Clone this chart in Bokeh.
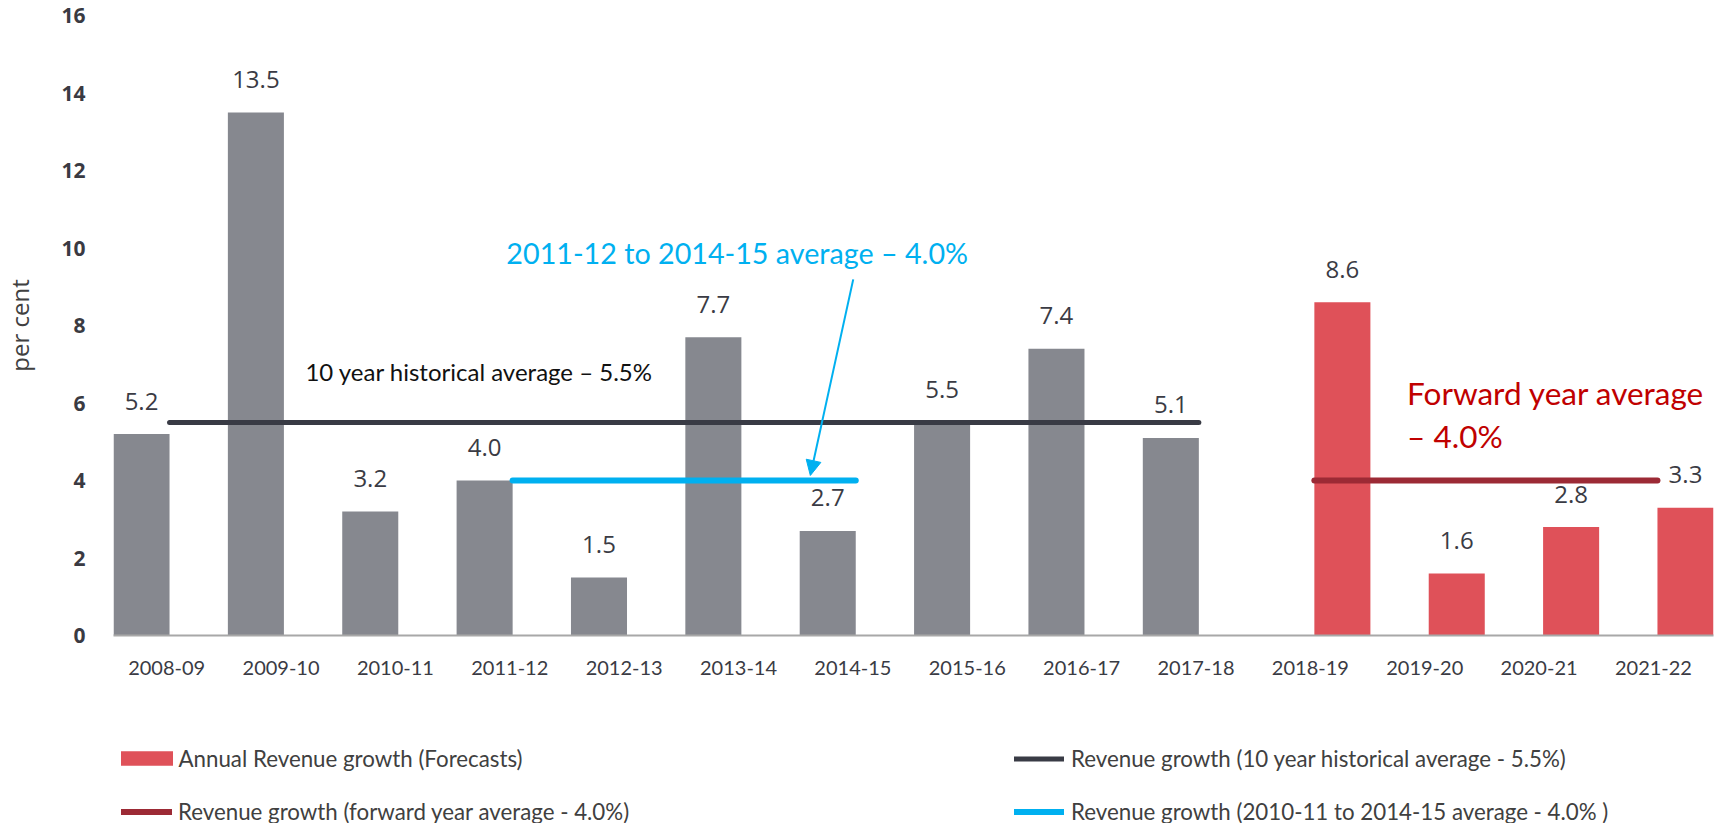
import numpy as np
from bokeh.plotting import figure
from bokeh.layouts import column
from bokeh.models import Range1d, FixedTicker, Legend, LegendItem, Label, Arrow, NormalHead
from bokeh.core.properties import value
from bokeh.embed import file_html
from bokeh.resources import INLINE

# ---------------- data ----------------
hist_years = ["2008-09", "2009-10", "2010-11", "2011-12", "2012-13",
              "2013-14", "2014-15", "2015-16", "2016-17", "2017-18"]
hist_growth = [5.2, 13.5, 3.2, 4.0, 1.5, 7.7, 2.7, 5.5, 7.4, 5.1]
fc_years = ["2018-19", "2019-20", "2020-21", "2021-22"]
fc_growth = [8.6, 1.6, 2.8, 3.3]
hist_avg = 5.5      # 10 year historical average
mid_avg = 4.0       # 2011-12 to 2014-15 average
fwd_avg = 4.0       # forward year average
y_ticks = [0, 2, 4, 6, 8, 10, 12, 14, 16]
legend_labels = ["Annual Revenue growth (Forecasts)",
                 "Revenue growth (forward year average - 4.0%)",
                 "Revenue growth (10 year historical average - 5.5%)",
                 "Revenue growth (2010-11 to 2014-15 average - 4.0% )"]

# ---------------- styles / layout ----------------
BAR_W = 0.49
FC_SHIFT = 0.5          # forecast bars sit half a slot further right
LABEL_SHIFT = 0.22      # category labels sit slightly right of slot
LATO = "Lato"
OPEN = "Open Sans"
GRAY = "#86888f"
RED = "#df5159"
DARK = "#393b45"
CYAN = "#00b0f0"
WINE = "#9c2a35"
FRAME_LEFT = 113

hist_x = list(np.arange(len(hist_years)))
fc_x = list(np.arange(len(hist_years), len(hist_years) + len(fc_years)) + FC_SHIFT)
all_years = hist_years + fc_years

p = figure(width=1727, height=700, output_backend="svg", toolbar_location=None,
           x_range=Range1d(-BAR_W / 2, fc_x[-1] + BAR_W / 2), y_range=Range1d(0, 16),
           min_border_left=FRAME_LEFT, min_border_right=14, min_border_top=15,
           min_border_bottom=65)
p.outline_line_color = None
p.xgrid.visible = False
p.ygrid.visible = False

# bars
p.vbar(x=hist_x, top=hist_growth, width=BAR_W, fill_color=GRAY, line_color=None)
p.vbar(x=fc_x, top=fc_growth, width=BAR_W, fill_color=RED, line_color=None)

# value labels
p.text(x=hist_x + fc_x, y=hist_growth + fc_growth,
       text=[f"{v:.1f}" for v in hist_growth + fc_growth],
       text_align="center", text_baseline="alphabetic", y_offset=-33,
       text_font=value(OPEN), text_font_size="24px", text_color="#3a3b44")

# average lines
half = BAR_W / 2
p.line(x=[hist_x[0] + half, hist_x[9] + half], y=[hist_avg, hist_avg],
       line_width=5, line_color=DARK, line_cap="round")
p.line(x=[hist_x[3] + half, hist_x[6] + half], y=[mid_avg, mid_avg],
       line_width=6, line_color=CYAN, line_cap="round")
p.line(x=[fc_x[0] - half, fc_x[3] - half], y=[fwd_avg, fwd_avg],
       line_width=6, line_color=WINE, line_cap="round")

# axes
yax = p.yaxis[0]
yax.ticker = FixedTicker(ticks=y_ticks)
yax.axis_line_color = None
yax.major_tick_line_color = None
yax.minor_tick_line_color = None
yax.major_label_standoff = 22
yax.major_label_text_font = OPEN
yax.major_label_text_font_style = "bold"
yax.major_label_text_font_size = "21px"
yax.major_label_text_color = "#3a3a42"
yax.axis_label = "per cent"
yax.axis_label_text_font = OPEN
yax.axis_label_text_font_style = "normal"
yax.axis_label_text_font_size = "24px"
yax.axis_label_text_color = "#404040"
yax.axis_label_standoff = 22

xax = p.xaxis[0]
tick_pos = [i + LABEL_SHIFT for i in range(len(all_years))]
xax.ticker = FixedTicker(ticks=tick_pos)
xax.major_label_overrides = {t: y for t, y in zip(tick_pos, all_years)}
xax.axis_line_color = "#a8a8a8"
xax.axis_line_width = 2
xax.major_tick_line_color = None
xax.minor_tick_line_color = None
xax.major_label_standoff = 19
xax.major_label_text_font = LATO
xax.major_label_text_font_size = "20px"
xax.major_label_text_color = "#3a3b44"

# annotations
p.add_layout(Label(x=1.433, y=6.82, text="10 year historical average \u2013 5.5%",
                   text_font=LATO, text_font_size="24px", text_color="#111111",
                   text_baseline="alphabetic"))
p.add_layout(Label(x=3.19, y=9.88, text="2011-12 to 2014-15 average \u2013 4.0%",
                   text_font=LATO, text_font_size="28.7px", text_color=CYAN,
                   text_baseline="alphabetic"))
p.add_layout(Label(x=11.066, y=6.25, text="Forward year average",
                   text_font=LATO, text_font_size="31.5px", text_color="#c00000",
                   text_baseline="alphabetic"))
p.add_layout(Label(x=11.066, y=5.16, text="\u2013 4.0%",
                   text_font=LATO, text_font_size="31.5px", text_color="#c00000",
                   text_baseline="alphabetic"))
p.add_layout(Arrow(x_start=6.223, y_start=9.19, x_end=5.848, y_end=4.13,
                   line_color=CYAN, line_width=2,
                   end=NormalHead(size=15, fill_color=CYAN, line_color=CYAN)))

# ---------------- legend strip ----------------
q = figure(width=1727, height=123, output_backend="svg", toolbar_location=None,
           x_range=Range1d(0, 1727), y_range=Range1d(0, 123),
           x_axis_location=None, y_axis_location=None,
           min_border_left=0, min_border_right=0, min_border_top=0, min_border_bottom=0)
q.outline_line_color = None
q.xgrid.visible = False
q.ygrid.visible = False

k_fc = q.vbar(x=[-50], top=[-50], width=1, fill_color=RED, line_color=None)
k_fwd = q.line(x=[-60, -50], y=[-50, -50], line_width=6, line_color=WINE, line_cap="round")
k_hist = q.line(x=[-60, -50], y=[-50, -50], line_width=5, line_color=DARK, line_cap="round")
k_mid = q.line(x=[-60, -50], y=[-50, -50], line_width=6, line_color=CYAN, line_cap="round")


def add_legend(renderer, label, x, y, gw, gh, standoff):
    # x given in page pixels; the strip's frame is aligned with the chart frame
    lg = Legend(items=[LegendItem(label=label, renderers=[renderer])],
                location=(x - FRAME_LEFT, y),
                padding=0, margin=0, spacing=0, glyph_width=gw, glyph_height=gh,
                label_standoff=standoff, label_text_font=LATO, label_text_font_size="22.3px",
                label_text_color="#404040", background_fill_alpha=0, border_line_alpha=0,
                label_height=25)
    q.add_layout(lg, "center")


add_legend(k_fc, legend_labels[0], 113.5, 51.5, 65, 18, 0)
add_legend(k_fwd, legend_labels[1], 121, -1.5, 51, 25, 6)
add_legend(k_hist, legend_labels[2], 1014, 51.5, 50, 25, 7)
add_legend(k_mid, legend_labels[3], 1014, -1.5, 50, 25, 7)

open("out.html", "w").write(file_html(column(p, q), INLINE))
